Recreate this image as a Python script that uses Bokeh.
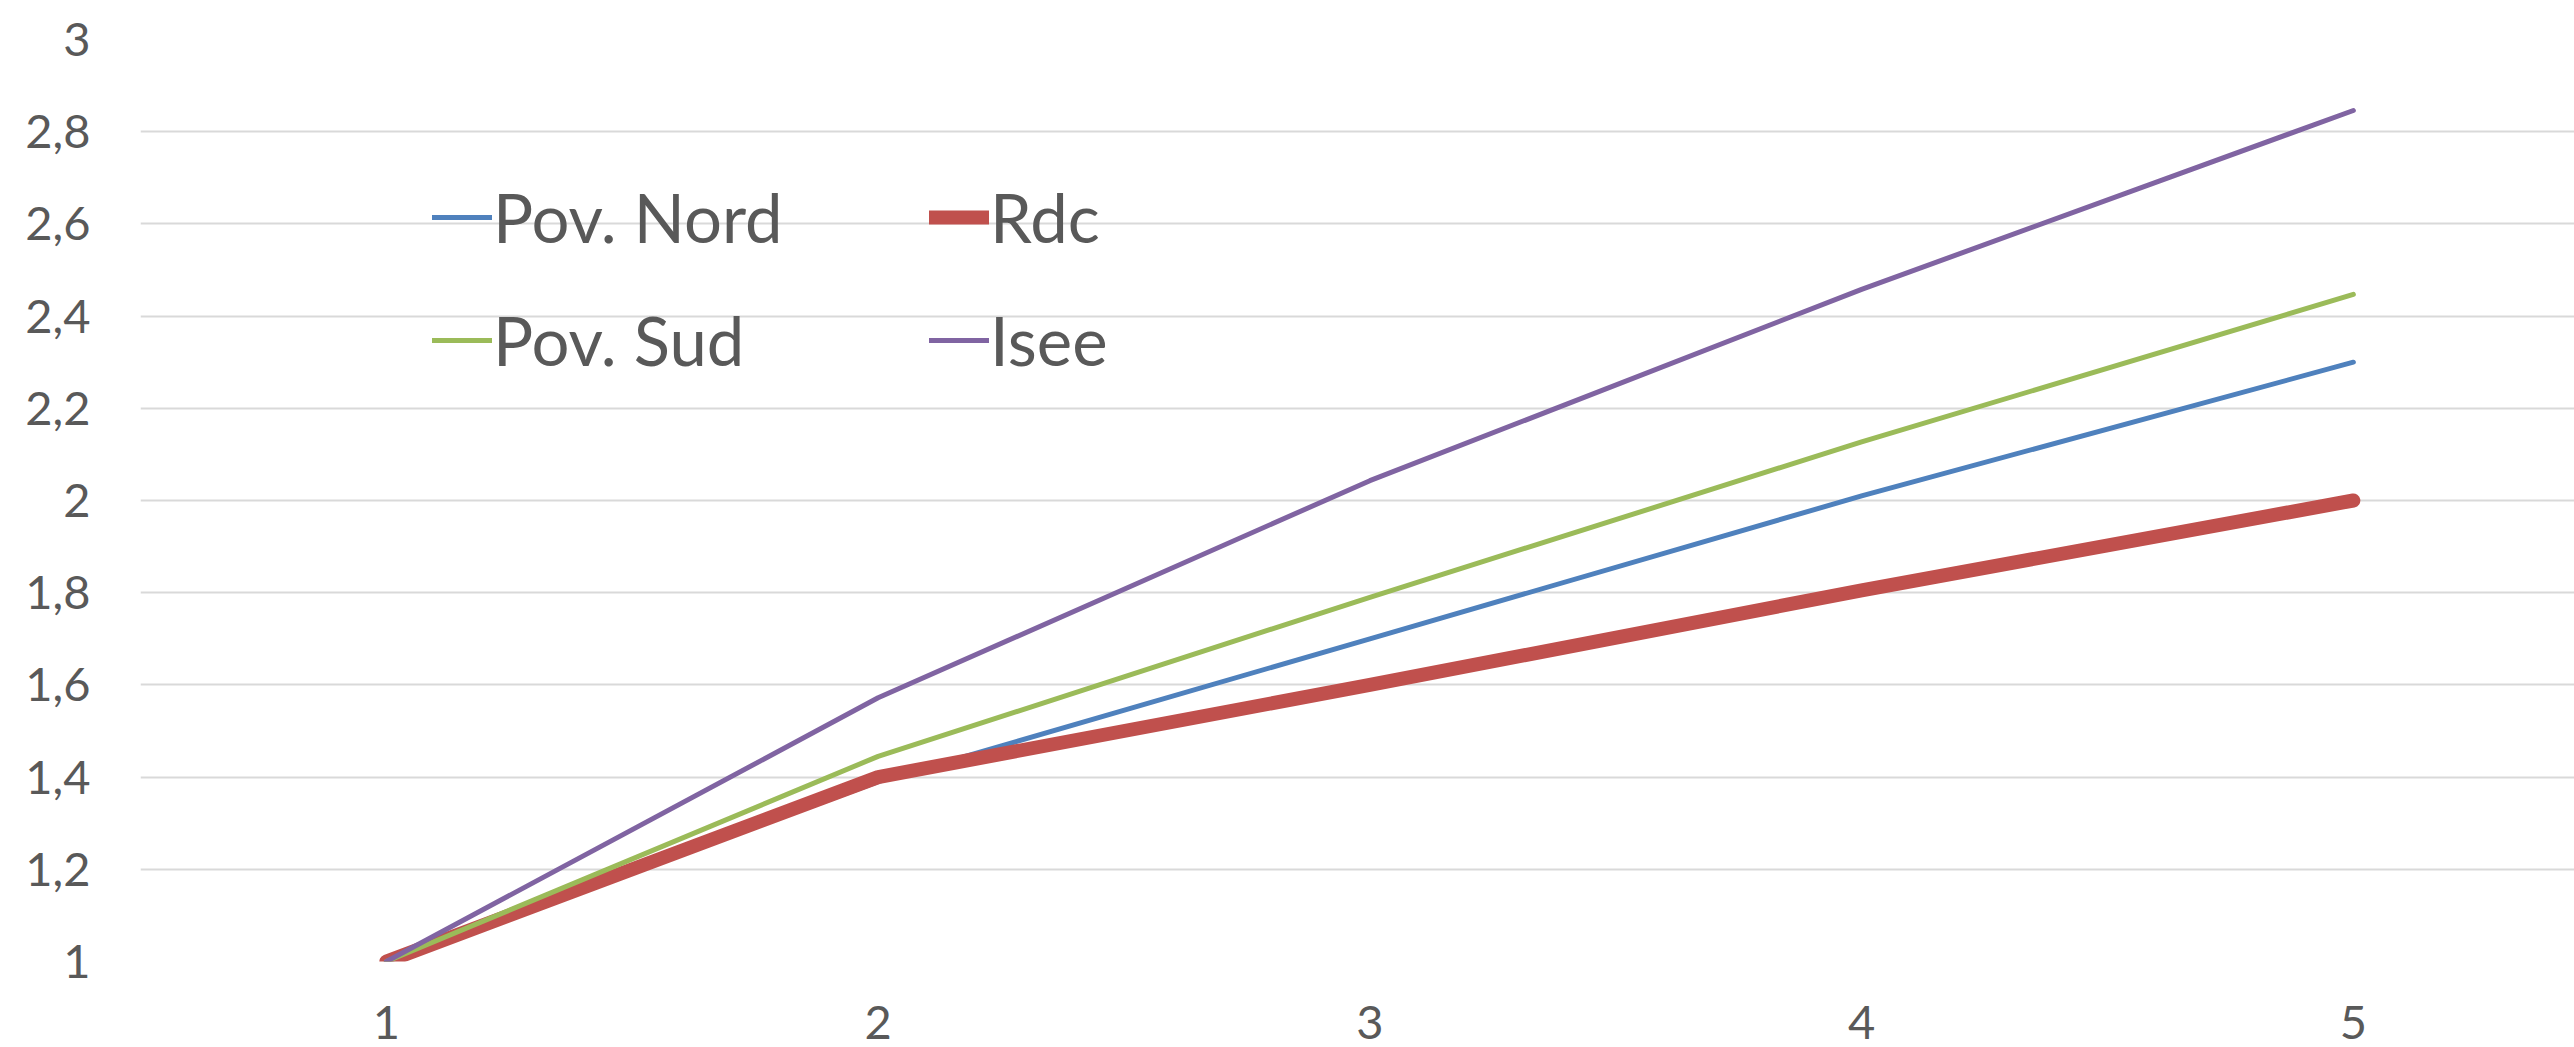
from bokeh.plotting import figure
from bokeh.models import Range1d, FixedTicker, Legend, LegendItem
from bokeh.embed import file_html
from bokeh.resources import INLINE

# ---- data ----
x_values = [1, 2, 3, 4, 5]
x_tick_labels = ["1", "2", "3", "4", "5"]
pov_nord = [1.0, 1.39, 1.70, 2.01, 2.30]
rdc = [1.0, 1.40, 1.60, 1.805, 2.0]
pov_sud = [1.0, 1.445, 1.79, 2.127, 2.447]
isee = [1.0, 1.572, 2.043, 2.458, 2.846]
y_ticks = [1.0, 1.2, 1.4, 1.6, 1.8, 2.0, 2.2, 2.4, 2.6, 2.8, 3.0]
y_tick_labels = ["1", "1,2", "1,4", "1,6", "1,8", "2", "2,2", "2,4", "2,6", "2,8", "3"]
series_names = ["Pov. Nord", "Rdc", "Pov. Sud", "Isee"]

BLUE = "#4F81BD"
RED = "#C0504D"
GREEN = "#9BBB59"
PURPLE = "#8064A2"
TEXT = "#595959"
FONT = "Lato"

p = figure(width=2574, height=1047, output_backend="svg", toolbar_location=None,
           x_range=Range1d(0.5, 5.4497), y_range=Range1d(1, 3),
           min_border_left=140, min_border_right=0, min_border_top=39, min_border_bottom=86)
p.outline_line_color = None
p.background_fill_color = "white"
p.border_fill_color = "white"

# axes
p.xaxis.ticker = FixedTicker(ticks=x_values)
p.xaxis.major_label_overrides = {v: l for v, l in zip(x_values, x_tick_labels)}
p.yaxis.ticker = FixedTicker(ticks=y_ticks)
p.yaxis.major_label_overrides = {v: l for v, l in zip(y_ticks, y_tick_labels)}
for ax in (p.xaxis, p.yaxis):
    ax.axis_line_color = None
    ax.major_tick_line_color = None
    ax.minor_tick_line_color = None
    ax.major_label_text_font = FONT
    ax.major_label_text_font_size = "47px"
    ax.major_label_text_color = TEXT
p.yaxis.major_label_standoff = 44
p.xaxis.major_label_standoff = 38

p.xgrid.grid_line_color = None
p.ygrid.grid_line_color = "#D9D9D9"
p.ygrid.grid_line_width = 2

# series (Excel drawing order)
r_nord = p.line(x_values, pov_nord, line_color=BLUE, line_width=5, line_cap="round", line_join="round")
r_rdc = p.line(x_values, rdc, line_color=RED, line_width=14, line_cap="round", line_join="round")
r_sud = p.line(x_values, pov_sud, line_color=GREEN, line_width=5, line_cap="round", line_join="round")
r_isee = p.line(x_values, isee, line_color=PURPLE, line_width=5, line_cap="round", line_join="round")

def make_legend(items, loc):
    lg = Legend(items=items, location=loc, orientation="vertical")
    lg.padding = 0
    lg.margin = 0
    lg.border_line_alpha = 0
    lg.background_fill_alpha = 0
    lg.label_text_font = FONT
    lg.label_text_font_size = "67px"
    lg.label_text_color = TEXT
    lg.glyph_width = 60
    lg.glyph_height = 40
    lg.label_height = 40
    lg.label_standoff = 1
    lg.spacing = 43
    return lg

lg1 = make_legend([LegendItem(label=series_names[0], renderers=[r_nord]),
                   LegendItem(label=series_names[2], renderers=[r_sud])], (292, 581))
lg2 = make_legend([LegendItem(label=series_names[1], renderers=[r_rdc]),
                   LegendItem(label=series_names[3], renderers=[r_isee])], (789, 581))
p.add_layout(lg1, "center")
p.add_layout(lg2, "center")

open("out.html", "w").write(file_html(p, INLINE))
